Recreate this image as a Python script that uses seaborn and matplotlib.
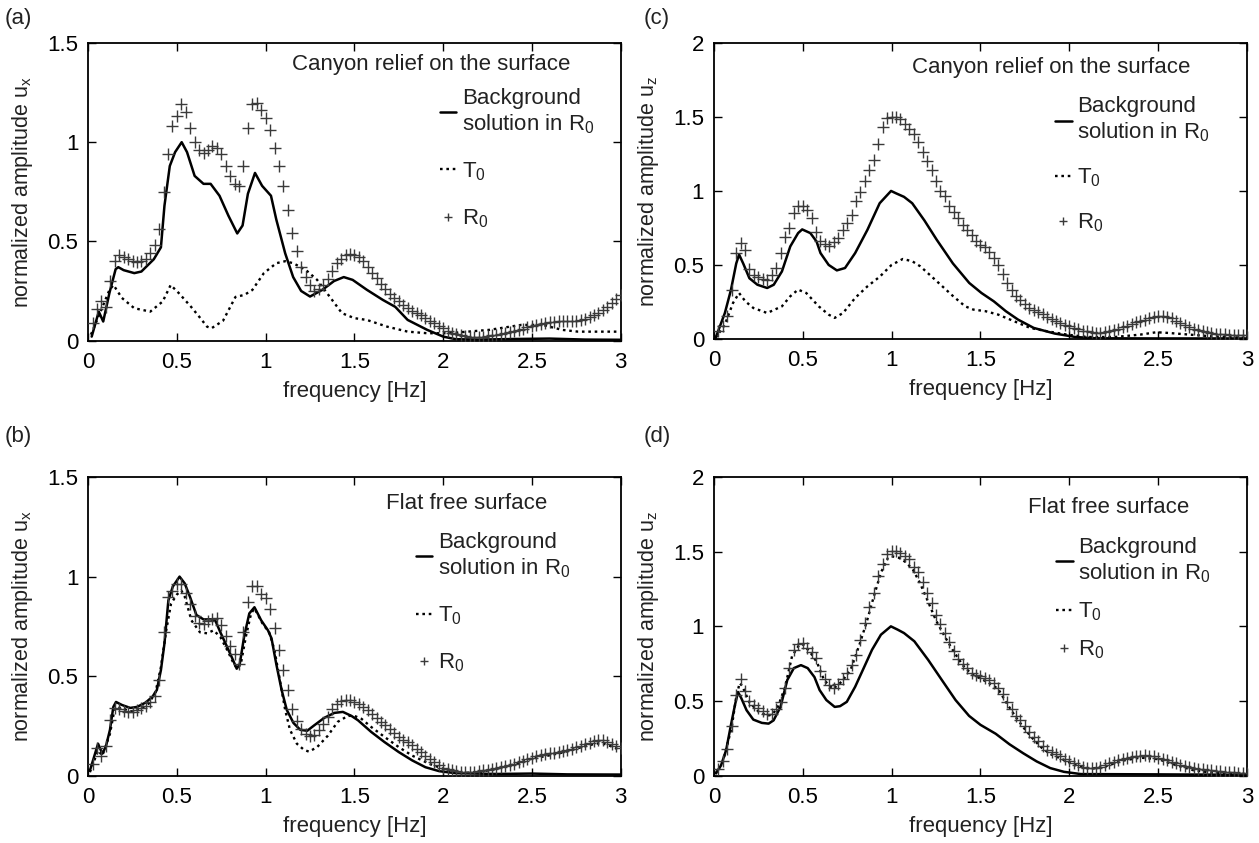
import numpy as np
import pandas as pd
import matplotlib
matplotlib.use("Agg")
import matplotlib.pyplot as plt
import seaborn as sns
from matplotlib.lines import Line2D
from matplotlib.ticker import FuncFormatter, MultipleLocator

# ---------------- data ----------------
FREQ = [0.025, 0.05, 0.075, 0.1, 0.125, 0.15, 0.175, 0.2, 0.225, 0.25,
        0.275, 0.3, 0.325, 0.35, 0.375, 0.4, 0.425, 0.45, 0.475, 0.5,
        0.525, 0.55, 0.575, 0.6, 0.625, 0.65, 0.675, 0.7, 0.725, 0.75,
        0.775, 0.8, 0.825, 0.85, 0.875, 0.9, 0.925, 0.95, 0.975, 1.0,
        1.025, 1.05, 1.075, 1.1, 1.125, 1.15, 1.175, 1.2, 1.225, 1.25,
        1.275, 1.3, 1.325, 1.35, 1.375, 1.4, 1.425, 1.45, 1.475, 1.5,
        1.525, 1.55, 1.575, 1.6, 1.625, 1.65, 1.675, 1.7, 1.725, 1.75,
        1.775, 1.8, 1.825, 1.85, 1.875, 1.9, 1.925, 1.95, 1.975, 2.0,
        2.025, 2.05, 2.075, 2.1, 2.125, 2.15, 2.175, 2.2, 2.225, 2.25,
        2.275, 2.3, 2.325, 2.35, 2.375, 2.4, 2.425, 2.45, 2.475, 2.5,
        2.525, 2.55, 2.575, 2.6, 2.625, 2.65, 2.675, 2.7, 2.725, 2.75,
        2.775, 2.8, 2.825, 2.85, 2.875, 2.9, 2.925, 2.95, 2.975, 3.0]

# (a) canyon, u_x
BG_A_F = [0.02, 0.06, 0.085, 0.12, 0.155, 0.17, 0.2, 0.26, 0.3, 0.37, 0.41, 0.43, 0.46, 0.49,
          0.527, 0.557, 0.6, 0.65, 0.69, 0.74, 0.79, 0.84, 0.87, 0.9, 0.94, 0.98, 1.03, 1.06,
          1.11, 1.155, 1.2, 1.25, 1.32, 1.385, 1.44, 1.49, 1.57, 1.66, 1.73, 1.8, 1.91, 2.0,
          2.07, 2.2, 2.4, 2.6, 2.8, 3.0]
BG_A = [0.02, 0.146, 0.096, 0.24, 0.36, 0.37, 0.355, 0.34, 0.348, 0.41, 0.47, 0.68, 0.88, 0.95,
        1.0, 0.95, 0.83, 0.79, 0.79, 0.73, 0.63, 0.54, 0.58, 0.74, 0.845, 0.78, 0.73, 0.61,
        0.44, 0.32, 0.25, 0.222, 0.256, 0.30, 0.32, 0.306, 0.256, 0.205, 0.17, 0.104, 0.054, 0.02,
        0.007, 0.005, 0.008, 0.01, 0.005, 0.004]
T0_A_F = [0.016, 0.074, 0.12, 0.143, 0.19, 0.26, 0.35, 0.42, 0.465, 0.51, 0.58, 0.626, 0.67,
          0.695, 0.76, 0.83, 0.88, 0.925, 0.99, 1.06, 1.11, 1.155, 1.225, 1.29, 1.36, 1.43,
          1.5, 1.57, 1.685, 1.8, 1.91, 2.03, 2.26, 2.44, 2.56, 2.67, 2.76, 3.0]
T0_A = [0.03, 0.155, 0.255, 0.28, 0.215, 0.163, 0.146, 0.197, 0.28, 0.24, 0.17, 0.12, 0.07,
        0.062, 0.10, 0.22, 0.23, 0.255, 0.34, 0.39, 0.40, 0.39, 0.357, 0.306, 0.222, 0.138,
        0.113, 0.104, 0.07, 0.045, 0.037, 0.037, 0.054, 0.079, 0.079, 0.054, 0.045, 0.045]
R0_A = [0.09, 0.16, 0.20, 0.17, 0.30, 0.40, 0.43, 0.42, 0.41, 0.40,
        0.395, 0.40, 0.41, 0.44, 0.48, 0.56, 0.75, 0.94, 1.08, 1.13,
        1.19, 1.15, 1.07, 1.00, 0.96, 0.945, 0.96, 0.98, 0.97, 0.94,
        0.88, 0.83, 0.79, 0.78, 0.88, 1.07, 1.19, 1.20, 1.16, 1.12,
        1.06, 0.97, 0.88, 0.78, 0.66, 0.54, 0.45, 0.37, 0.32, 0.28,
        0.25, 0.26, 0.28, 0.31, 0.35, 0.39, 0.41, 0.43, 0.435, 0.43,
        0.42, 0.40, 0.37, 0.34, 0.315, 0.285, 0.26, 0.235, 0.215, 0.20,
        0.18, 0.163, 0.15, 0.14, 0.128, 0.115, 0.10, 0.09, 0.075, 0.062,
        0.05, 0.04, 0.033, 0.026, 0.021, 0.019, 0.017, 0.017, 0.019, 0.022,
        0.026, 0.029, 0.033, 0.037, 0.042, 0.046, 0.052, 0.058, 0.066, 0.072,
        0.077, 0.083, 0.088, 0.092, 0.095, 0.097, 0.098, 0.099, 0.10, 0.101,
        0.105, 0.11, 0.118, 0.128, 0.14, 0.155, 0.17, 0.19, 0.21, 0.23]

# (b) flat, u_x
BG_B_F = [0.01, 0.056, 0.08, 0.10, 0.123, 0.142, 0.157, 0.19, 0.237, 0.276, 0.324, 0.362, 0.387,
          0.41, 0.43, 0.452, 0.477, 0.515, 0.544, 0.573, 0.61, 0.65, 0.69, 0.716, 0.745, 0.774,
          0.812, 0.837, 0.854, 0.879, 0.908, 0.937, 0.975, 1.013, 1.033, 1.06, 1.09, 1.119,
          1.157, 1.195, 1.234, 1.27, 1.33, 1.387, 1.435, 1.483, 1.52, 1.595, 1.67, 1.75, 1.826,
          1.9, 1.978, 2.07, 2.3, 2.5, 2.7, 3.0]
BG_B = [0.025, 0.16, 0.11, 0.146, 0.23, 0.345, 0.37, 0.355, 0.34, 0.345, 0.367, 0.396, 0.43,
        0.53, 0.664, 0.88, 0.95, 1.0, 0.966, 0.90, 0.807, 0.785, 0.785, 0.78, 0.72, 0.664,
        0.589, 0.537, 0.56, 0.70, 0.815, 0.846, 0.78, 0.73, 0.69, 0.56, 0.43, 0.33,
        0.264, 0.23, 0.225, 0.25, 0.29, 0.315, 0.32, 0.30, 0.278, 0.219, 0.168, 0.118, 0.076,
        0.042, 0.022, 0.012, 0.008, 0.01, 0.006, 0.005]
T0_B_F = [0.01, 0.056, 0.08, 0.123, 0.15, 0.19, 0.237, 0.285, 0.343, 0.38, 0.41, 0.44, 0.467,
          0.5, 0.525, 0.544, 0.582, 0.63, 0.67, 0.707, 0.745, 0.784, 0.82, 0.84, 0.86, 0.889,
          0.918, 0.937, 0.985, 1.02, 1.05, 1.08, 1.11, 1.137, 1.176, 1.215, 1.244, 1.29, 1.35,
          1.406, 1.463, 1.5, 1.54, 1.595, 1.67, 1.75, 1.826, 1.92, 2.015, 2.09, 2.2, 2.3, 2.4,
          2.495, 2.59, 2.685, 2.78, 2.857, 2.895, 2.95, 3.0]
T0_B = [0.017, 0.126, 0.10, 0.21, 0.34, 0.34, 0.322, 0.33, 0.363, 0.42, 0.545, 0.73, 0.864,
        0.91, 0.93, 0.90, 0.78, 0.72, 0.715, 0.73, 0.696, 0.63, 0.563, 0.537, 0.56, 0.70,
        0.815, 0.84, 0.76, 0.72, 0.63, 0.48, 0.33, 0.23, 0.16, 0.13, 0.12, 0.143, 0.20,
        0.27, 0.30, 0.30, 0.285, 0.244, 0.194, 0.143, 0.10, 0.06, 0.029, 0.012, 0.017, 0.034, 0.056,
        0.084, 0.10, 0.118, 0.143, 0.16, 0.163, 0.146, 0.126]
R0_B = [0.06, 0.14, 0.10, 0.15, 0.28, 0.34, 0.335, 0.327, 0.32, 0.32,
        0.33, 0.342, 0.352, 0.37, 0.40, 0.48, 0.72, 0.90, 0.93, 0.965,
        0.965, 0.92, 0.86, 0.80, 0.765, 0.763, 0.778, 0.788, 0.79, 0.757,
        0.70, 0.65, 0.61, 0.56, 0.72, 0.87, 0.955, 0.955, 0.914, 0.89,
        0.835, 0.74, 0.63, 0.53, 0.43, 0.335, 0.275, 0.233, 0.21, 0.20,
        0.205, 0.23, 0.26, 0.296, 0.333, 0.358, 0.374, 0.38, 0.38, 0.372,
        0.36, 0.345, 0.328, 0.31, 0.29, 0.27, 0.255, 0.235, 0.215, 0.194,
        0.18, 0.168, 0.152, 0.135, 0.12, 0.10, 0.085, 0.07, 0.052, 0.04,
        0.032, 0.026, 0.022, 0.02, 0.018, 0.017, 0.018, 0.022, 0.026, 0.03,
        0.034, 0.038, 0.043, 0.048, 0.055, 0.06, 0.066, 0.074, 0.082, 0.09,
        0.097, 0.103, 0.108, 0.112, 0.115, 0.118, 0.122, 0.128, 0.135, 0.142,
        0.15, 0.158, 0.165, 0.172, 0.177, 0.177, 0.17, 0.16, 0.15, 0.138]

# (c) canyon, u_z
BG_C_F = [0.01, 0.062, 0.096, 0.126, 0.142, 0.165, 0.2, 0.245, 0.30, 0.337, 0.383, 0.43, 0.474,
          0.497, 0.543, 0.578, 0.60, 0.646, 0.692, 0.738, 0.795, 0.864, 0.933, 0.997, 1.025,
          1.07, 1.116, 1.185, 1.254, 1.345, 1.437, 1.506, 1.575, 1.643, 1.712, 1.80, 1.918,
          2.033, 2.148, 2.5, 3.0]
BG_C = [0.007, 0.175, 0.33, 0.51, 0.57, 0.51, 0.41, 0.366, 0.344, 0.366, 0.456, 0.625, 0.715,
        0.74, 0.715, 0.658, 0.58, 0.50, 0.463, 0.479, 0.58, 0.737, 0.917, 1.0, 0.984,
        0.96, 0.917, 0.80, 0.67, 0.51, 0.378, 0.31, 0.254, 0.187, 0.13, 0.074, 0.036,
        0.013, 0.004, 0.003, 0.003]
T0_C_F = [0.01, 0.062, 0.108, 0.142, 0.177, 0.222, 0.30, 0.383, 0.43, 0.474, 0.52, 0.59, 0.646,
          0.68, 0.727, 0.795, 0.864, 0.933, 1.0, 1.063, 1.116, 1.162, 1.254, 1.345, 1.414,
          1.46, 1.529, 1.6, 1.69, 1.78, 1.873, 1.987, 2.1, 2.26, 2.4, 2.49, 2.56, 2.675, 2.79, 3.0]
T0_C = [0.007, 0.097, 0.243, 0.31, 0.254, 0.209, 0.175, 0.22, 0.288, 0.333, 0.31, 0.22, 0.164,
        0.142, 0.175, 0.277, 0.355, 0.42, 0.50, 0.54, 0.525, 0.49, 0.39, 0.29, 0.22,
        0.198, 0.187, 0.164, 0.119, 0.074, 0.052, 0.029, 0.013, 0.013, 0.029, 0.045, 0.04, 0.029, 0.018, 0.007]
R0_C = [0.05, 0.09, 0.155, 0.33, 0.58, 0.65, 0.60, 0.47, 0.435, 0.42,
        0.405, 0.40, 0.43, 0.48, 0.58, 0.69, 0.75, 0.85, 0.895, 0.90,
        0.87, 0.82, 0.72, 0.665, 0.64, 0.63, 0.655, 0.68, 0.735, 0.78,
        0.84, 0.93, 0.995, 1.07, 1.14, 1.21, 1.32, 1.43, 1.49, 1.50,
        1.50, 1.485, 1.455, 1.42, 1.385, 1.33, 1.26, 1.20, 1.14, 1.065,
        1.0, 0.965, 0.90, 0.86, 0.82, 0.77, 0.735, 0.70, 0.66, 0.635,
        0.62, 0.59, 0.55, 0.50, 0.44, 0.38, 0.33, 0.29, 0.26, 0.235,
        0.21, 0.195, 0.18, 0.165, 0.15, 0.135, 0.12, 0.108, 0.096, 0.085,
        0.074, 0.064, 0.056, 0.05, 0.046, 0.043, 0.043, 0.046, 0.052, 0.06,
        0.069, 0.079, 0.09, 0.101, 0.112, 0.122, 0.131, 0.14, 0.147, 0.152,
        0.152, 0.148, 0.138, 0.124, 0.11, 0.095, 0.08, 0.068, 0.058, 0.05,
        0.044, 0.04, 0.036, 0.033, 0.03, 0.028, 0.026, 0.025, 0.024, 0.023]

# (d) flat, u_z
BG_D_F = [0.011, 0.04, 0.069, 0.098, 0.12, 0.136, 0.155, 0.184, 0.222, 0.27, 0.308, 0.336, 0.375,
          0.413, 0.45, 0.49, 0.528, 0.566, 0.595, 0.633, 0.68, 0.71, 0.748, 0.795, 0.843, 0.89,
          0.94, 0.996, 1.034, 1.07, 1.128, 1.206, 1.283, 1.36, 1.436, 1.5, 1.586, 1.663, 1.74,
          1.816, 1.893, 1.97, 2.065, 2.5, 3.0]
BG_D = [0.016, 0.067, 0.17, 0.35, 0.48, 0.56, 0.517, 0.438, 0.375, 0.353, 0.348, 0.37, 0.46,
        0.64, 0.72, 0.74, 0.72, 0.66, 0.573, 0.506, 0.46, 0.465, 0.494, 0.595, 0.72, 0.843,
        0.944, 1.0, 0.978, 0.955, 0.90, 0.775, 0.64, 0.506, 0.40, 0.34, 0.28, 0.21, 0.15,
        0.095, 0.05, 0.025, 0.01, 0.008, 0.005]
T0_D_F = [0.01, 0.05, 0.1, 0.125, 0.145, 0.16, 0.2, 0.25, 0.3, 0.33, 0.36, 0.4, 0.44, 0.48, 0.5,
          0.54, 0.58, 0.62, 0.67, 0.72, 0.77, 0.82, 0.86, 0.9, 0.94, 0.98, 1.0, 1.04, 1.08,
          1.12, 1.16, 1.2, 1.25, 1.3, 1.35, 1.4, 1.45, 1.5, 1.55, 1.6, 1.65, 1.7, 1.75, 1.8,
          1.85, 1.9, 1.95, 2.0, 2.05, 2.12, 2.2, 2.3, 2.4, 2.5, 2.6, 2.7, 2.8, 2.9, 3.0]
T0_D = [0.01, 0.09, 0.32, 0.52, 0.62, 0.60, 0.49, 0.43, 0.40, 0.41, 0.46, 0.59, 0.80, 0.875, 0.88,
        0.83, 0.76, 0.64, 0.58, 0.63, 0.71, 0.88, 1.03, 1.20, 1.36, 1.46, 1.47, 1.46, 1.43,
        1.38, 1.29, 1.18, 1.04, 0.93, 0.83, 0.74, 0.68, 0.65, 0.62, 0.58, 0.48, 0.39, 0.31, 0.24,
        0.18, 0.14, 0.115, 0.09, 0.062, 0.045, 0.06, 0.10, 0.12, 0.11, 0.07, 0.035, 0.02, 0.012, 0.01]
R0_D = [0.045, 0.097, 0.175, 0.33, 0.54, 0.645, 0.57, 0.50, 0.47, 0.45,
        0.432, 0.41, 0.414, 0.445, 0.495, 0.59, 0.72, 0.84, 0.885, 0.888,
        0.856, 0.825, 0.787, 0.70, 0.65, 0.607, 0.59, 0.615, 0.648, 0.69,
        0.74, 0.805, 0.91, 1.02, 1.13, 1.225, 1.34, 1.42, 1.483, 1.505,
        1.502, 1.49, 1.47, 1.45, 1.40, 1.365, 1.30, 1.225, 1.155, 1.075,
        1.015, 0.955, 0.895, 0.835, 0.78, 0.75, 0.72, 0.69, 0.675, 0.665,
        0.655, 0.643, 0.62, 0.59, 0.545, 0.49, 0.445, 0.40, 0.37, 0.335,
        0.295, 0.26, 0.23, 0.20, 0.173, 0.157, 0.143, 0.128, 0.114, 0.10,
        0.083, 0.068, 0.058, 0.052, 0.05, 0.053, 0.06, 0.072, 0.082, 0.092,
        0.102, 0.112, 0.12, 0.125, 0.13, 0.134, 0.135, 0.133, 0.128, 0.12,
        0.112, 0.102, 0.092, 0.083, 0.072, 0.062, 0.055, 0.05, 0.045, 0.041,
        0.037, 0.034, 0.031, 0.029, 0.026, 0.024, 0.022, 0.02, 0.018, 0.016]

XTICKS = [0, 0.5, 1, 1.5, 2, 2.5, 3]
PANEL_TAGS = ["(a)", "(b)", "(c)", "(d)"]
TITLES = ["Canyon relief on the surface", "Flat free surface",
          "Canyon relief on the surface", "Flat free surface"]
YLABELS = ["normalized amplitude u$_{x}$", "normalized amplitude u$_{x}$",
           "normalized amplitude u$_{z}$", "normalized amplitude u$_{z}$"]
LEGEND_LABELS = ["Background\nsolution in R$_{0}$", "T$_{0}$", "R$_{0}$"]

# ---------------- style ----------------
sns.set_theme(style="ticks")
plt.rcParams["font.family"] = ["Liberation Sans", "DejaVu Sans"]
plt.rcParams["mathtext.default"] = "regular"
FS = 16
FSY = 15.5
DOT = (0, (1.1, 1.6))
MCOL = "#3a3a3a"
TCOL = "#222222"

fig = plt.figure(figsize=(12.59, 8.43), dpi=100)

layout = [
    dict(rect=[0.070, 0.596, 0.423, 0.353], ymax=1.5, tpos=(0.383, 0.927), lpos=(0.66, 0.85), ls=1.1, tag=(0.004, 0.978)),
    dict(rect=[0.070, 0.080, 0.423, 0.354], ymax=1.5, tpos=(0.56, 0.91), lpos=(0.615, 0.817), ls=1.1, tag=(0.004, 0.482)),
    dict(rect=[0.567, 0.598, 0.4235, 0.351], ymax=2.0, tpos=(0.372, 0.918), lpos=(0.64, 0.82), ls=1.0, tag=(0.511, 0.978)),
    dict(rect=[0.567, 0.080, 0.4235, 0.354], ymax=2.0, tpos=(0.59, 0.897), lpos=(0.642, 0.80), ls=0.7, tag=(0.511, 0.482)),
]
series = [
    (BG_A_F, BG_A, T0_A_F, T0_A, R0_A),
    (BG_B_F, BG_B, T0_B_F, T0_B, R0_B),
    (BG_C_F, BG_C, T0_C_F, T0_C, R0_C),
    (BG_D_F, BG_D, T0_D_F, T0_D, R0_D),
]

fmt = FuncFormatter(lambda v, p: f"{v:g}")

for i, (lay, ser) in enumerate(zip(layout, series)):
    bgx, bgy, tx, ty, r0 = ser
    ax = fig.add_axes(lay["rect"])
    sns.lineplot(x=bgx, y=bgy, ax=ax, color="black", lw=1.8, estimator=None, sort=False)
    sns.lineplot(x=tx, y=ty, ax=ax, color="black", lw=1.7, linestyle=DOT, estimator=None, sort=False)
    sns.scatterplot(x=FREQ, y=r0, ax=ax, marker="+", color=MCOL, s=64, linewidth=1.0, zorder=3)

    ax.set_xlim(0, 3)
    ax.set_ylim(0, lay["ymax"])
    ax.set_xticks(XTICKS)
    ax.yaxis.set_major_locator(MultipleLocator(0.5))
    ax.xaxis.set_major_formatter(fmt)
    ax.yaxis.set_major_formatter(fmt)
    ax.tick_params(direction="in", top=True, right=True, length=6, width=1.0,
                   labelsize=FS, colors="black")
    ax.tick_params(axis="x", pad=8)
    ax.tick_params(axis="y", pad=7)
    for sp in ax.spines.values():
        sp.set_visible(True)
        sp.set_linewidth(1.3)
        sp.set_color("black")
    ax.set_xlabel("frequency [Hz]", fontsize=FS, labelpad=6, color=TCOL)
    ax.set_ylabel(YLABELS[i], fontsize=FSY, labelpad=9, color=TCOL)

    ax.text(lay["tpos"][0], lay["tpos"][1], TITLES[i], transform=ax.transAxes,
            fontsize=FS, ha="left", va="center", color=TCOL)

    handles = [Line2D([], [], color="black", lw=1.8),
               Line2D([], [], color="black", lw=1.7, linestyle=DOT),
               Line2D([], [], color=MCOL, marker="+", linestyle="none", markersize=6, markeredgewidth=1.0)]
    leg = ax.legend(handles, LEGEND_LABELS, loc="upper left", bbox_to_anchor=lay["lpos"],
                    frameon=False, fontsize=FS, handlelength=0.75, handletextpad=0.25,
                    labelspacing=lay["ls"], borderpad=0, borderaxespad=0)
    for t in leg.get_texts():
        t.set_color(TCOL)

    fig.text(lay["tag"][0], lay["tag"][1], PANEL_TAGS[i], fontsize=FS, ha="left", va="center",
             color=TCOL)

fig.savefig("out.png", dpi=100)
